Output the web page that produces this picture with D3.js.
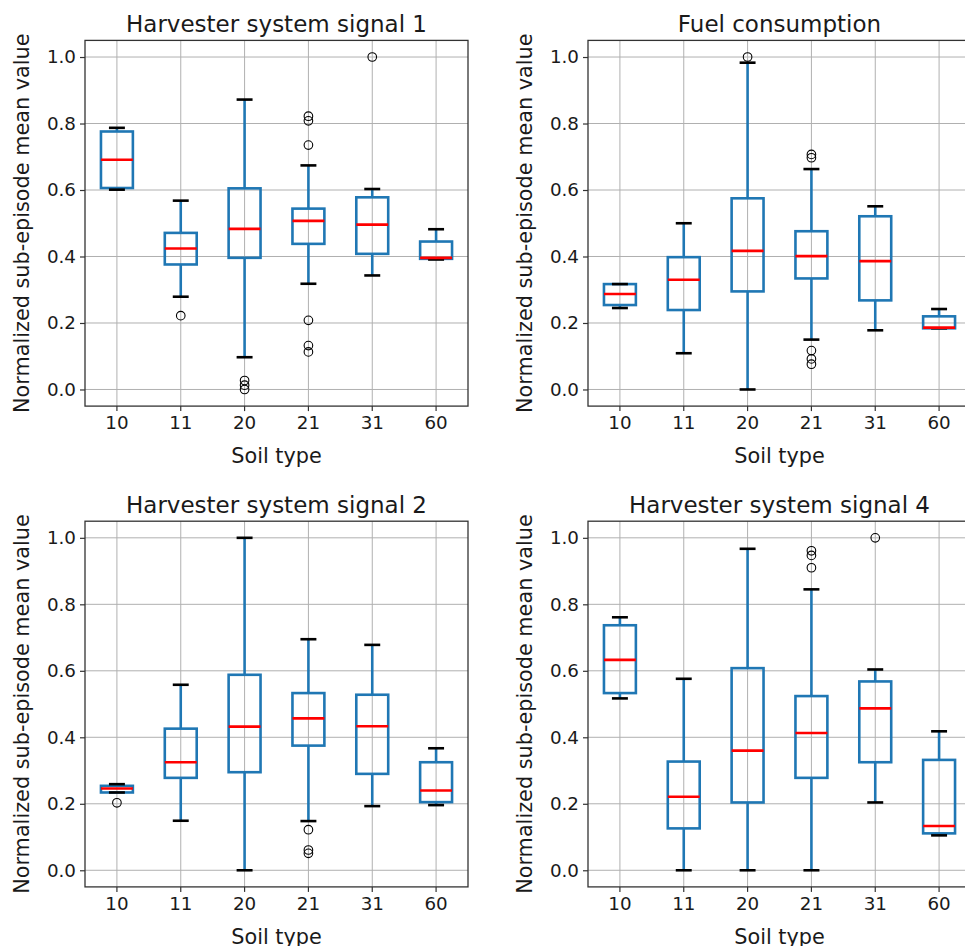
<!DOCTYPE html>
<html>
<head>
<meta charset="utf-8">
<script src="https://cdn.jsdelivr.net/npm/d3@7"></script>
<style>
  html, body { margin: 0; padding: 0; background: #fff; }
  svg { display: block; }
  text { font-family: "DejaVu Sans", sans-serif; fill: #1a1a1a; }
</style>
</head>
<body>
<svg id="chart" width="965" height="946"></svg>
<script>
// ---------- data ----------
const categories = ["10", "11", "20", "21", "31", "60"];
const titles = ["Harvester system signal 1", "Fuel consumption", "Harvester system signal 2", "Harvester system signal 4"];
const yTicks = [0.0, 0.2, 0.4, 0.6, 0.8, 1.0];
const xLabel = "Soil type";
const yLabel = "Normalized sub-episode mean value";

// Harvester system signal 1
const sig1Low    = [0.601, 0.279, 0.097, 0.318, 0.343, 0.391];
const sig1Q1     = [0.606, 0.376, 0.396, 0.438, 0.408, 0.393];
const sig1Median = [0.691, 0.424, 0.483, 0.507, 0.496, 0.396];
const sig1Q3     = [0.776, 0.471, 0.605, 0.544, 0.578, 0.445];
const sig1High   = [0.787, 0.568, 0.872, 0.674, 0.603, 0.482];
const sig1Out    = [[], [0.222], [0.027, 0.013, 0.0], [0.822, 0.808, 0.735, 0.208, 0.132, 0.113], [1.0], []];

// Fuel consumption
const fuelLow    = [0.245, 0.109, 0.0, 0.150, 0.178, 0.184];
const fuelQ1     = [0.254, 0.239, 0.295, 0.334, 0.268, 0.184];
const fuelMedian = [0.287, 0.330, 0.417, 0.401, 0.386, 0.186];
const fuelQ3     = [0.317, 0.398, 0.575, 0.476, 0.521, 0.220];
const fuelHigh   = [0.317, 0.500, 0.983, 0.663, 0.551, 0.242];
const fuelOut    = [[], [], [1.0], [0.707, 0.697, 0.117, 0.092, 0.076], [], []];

// Harvester system signal 2
const sig2Low    = [0.234, 0.149, 0.0, 0.148, 0.193, 0.196];
const sig2Q1     = [0.234, 0.278, 0.295, 0.375, 0.290, 0.205];
const sig2Median = [0.246, 0.325, 0.432, 0.457, 0.433, 0.240];
const sig2Q3     = [0.254, 0.426, 0.588, 0.533, 0.528, 0.325];
const sig2High   = [0.259, 0.558, 1.0, 0.695, 0.678, 0.367];
const sig2Out    = [[0.203], [], [], [0.122, 0.061, 0.051], [], []];

// Harvester system signal 4
const sig4Low    = [0.517, 0.0, 0.0, 0.0, 0.204, 0.105];
const sig4Q1     = [0.533, 0.126, 0.204, 0.278, 0.325, 0.111];
const sig4Median = [0.633, 0.221, 0.360, 0.413, 0.487, 0.133];
const sig4Q3     = [0.737, 0.327, 0.608, 0.524, 0.568, 0.332];
const sig4High   = [0.761, 0.576, 0.967, 0.845, 0.604, 0.418];
const sig4Out    = [[], [], [], [0.961, 0.947, 0.910], [1.0], []];

// ---------- build ----------
const panelsData = [
  {low: sig1Low, q1: sig1Q1, med: sig1Median, q3: sig1Q3, high: sig1High, out: sig1Out},
  {low: fuelLow, q1: fuelQ1, med: fuelMedian, q3: fuelQ3, high: fuelHigh, out: fuelOut},
  {low: sig2Low, q1: sig2Q1, med: sig2Median, q3: sig2Q3, high: sig2High, out: sig2Out},
  {low: sig4Low, q1: sig4Q1, med: sig4Median, q3: sig4Q3, high: sig4High, out: sig4Out}
];

const colX = [[85, 468], [588, 971]];
const rowY = [[40.4, 406.1], [521.2, 886.9]];

const svg = d3.select("#chart");
const BLUE = "#1f77b4", RED = "#ff0000", GRID = "#b0b0b0", FRAME = "#333";

panelsData.forEach((d, i) => {
  const [x0, x1] = colX[i % 2];
  const [y0, y1] = rowY[Math.floor(i / 2)];
  const g = svg.append("g");

  const x = d3.scaleBand().domain(categories).range([x0, x1]).paddingInner(0).paddingOuter(0);
  const y = d3.scaleLinear().domain([-0.05, 1.05]).range([y1, y0]);
  const cx = c => x(c) + x.bandwidth() / 2;
  const bw = x.bandwidth() * 0.5;
  const cw = x.bandwidth() * 0.25;

  // grid
  g.append("g").selectAll("line").data(yTicks).join("line")
    .attr("x1", x0).attr("x2", x1).attr("y1", v => y(v)).attr("y2", v => y(v))
    .attr("stroke", GRID).attr("stroke-width", 1);
  g.append("g").selectAll("line").data(categories).join("line")
    .attr("x1", c => cx(c)).attr("x2", c => cx(c)).attr("y1", y0).attr("y2", y1)
    .attr("stroke", GRID).attr("stroke-width", 1);

  // axes (ticks + labels) via d3 axis
  const yAxis = d3.axisLeft(y).tickValues(yTicks).tickFormat(d3.format(".1f")).tickSizeOuter(0).tickSize(5).tickPadding(4);
  const ya = g.append("g").attr("transform", `translate(${x0},0)`).call(yAxis);
  ya.select(".domain").remove();
  ya.selectAll(".tick line").attr("stroke", FRAME).attr("stroke-width", 1.2);
  ya.selectAll(".tick text").attr("font-size", 18.3).attr("font-family", "DejaVu Sans").attr("fill", "#1a1a1a");

  const xAxis = d3.axisBottom(x).tickSizeOuter(0).tickSize(5).tickPadding(5);
  const xa = g.append("g").attr("transform", `translate(0,${y1})`).call(xAxis);
  xa.select(".domain").remove();
  xa.selectAll(".tick line").attr("stroke", FRAME).attr("stroke-width", 1.2);
  xa.selectAll(".tick text").attr("font-size", 18.3).attr("font-family", "DejaVu Sans").attr("fill", "#1a1a1a");

  // boxes
  const idx = d3.range(categories.length);
  const boxes = g.append("g");
  idx.forEach(k => {
    const c = categories[k];
    const px = cx(c);
    const bg = boxes.append("g");
    // whiskers
    bg.append("line").attr("x1", px).attr("x2", px).attr("y1", y(d.q3[k])).attr("y2", y(d.high[k]))
      .attr("stroke", BLUE).attr("stroke-width", 2.6);
    bg.append("line").attr("x1", px).attr("x2", px).attr("y1", y(d.q1[k])).attr("y2", y(d.low[k]))
      .attr("stroke", BLUE).attr("stroke-width", 2.6);
    // box
    bg.append("rect").attr("x", px - bw / 2).attr("width", bw)
      .attr("y", y(d.q3[k])).attr("height", Math.max(0, y(d.q1[k]) - y(d.q3[k])))
      .attr("fill", "none").attr("stroke", BLUE).attr("stroke-width", 2.6);
    // caps
    [d.low[k], d.high[k]].forEach(v => {
      bg.append("line").attr("x1", px - cw / 2).attr("x2", px + cw / 2).attr("y1", y(v)).attr("y2", y(v))
        .attr("stroke", "#000").attr("stroke-width", 2.6);
    });
    // median
    bg.append("line").attr("x1", px - bw / 2).attr("x2", px + bw / 2).attr("y1", y(d.med[k])).attr("y2", y(d.med[k]))
      .attr("stroke", RED).attr("stroke-width", 2.6);
    // fliers
    bg.selectAll("circle").data(d.out[k]).join("circle")
      .attr("cx", px).attr("cy", v => y(v)).attr("r", 4.3)
      .attr("fill", "none").attr("stroke", "#000").attr("stroke-width", 1.1);
  });

  // frame
  g.append("rect").attr("x", x0).attr("y", y0).attr("width", x1 - x0).attr("height", y1 - y0)
    .attr("fill", "none").attr("stroke", FRAME).attr("stroke-width", 1.3);

  // title
  g.append("text").attr("x", (x0 + x1) / 2).attr("y", y0 - 8.5).attr("text-anchor", "middle")
    .attr("font-size", 23).text(titles[i]);
  // x label
  g.append("text").attr("x", (x0 + x1) / 2).attr("y", y1 + 57).attr("text-anchor", "middle")
    .attr("font-size", 20.8).text(xLabel);
  // y label
  const lx = x0 - 56;
  g.append("text").attr("transform", `translate(${lx},${(y0 + y1) / 2}) rotate(-90)`)
    .attr("text-anchor", "middle").attr("font-size", 20.8).text(yLabel);
});
</script>
</body>
</html>
